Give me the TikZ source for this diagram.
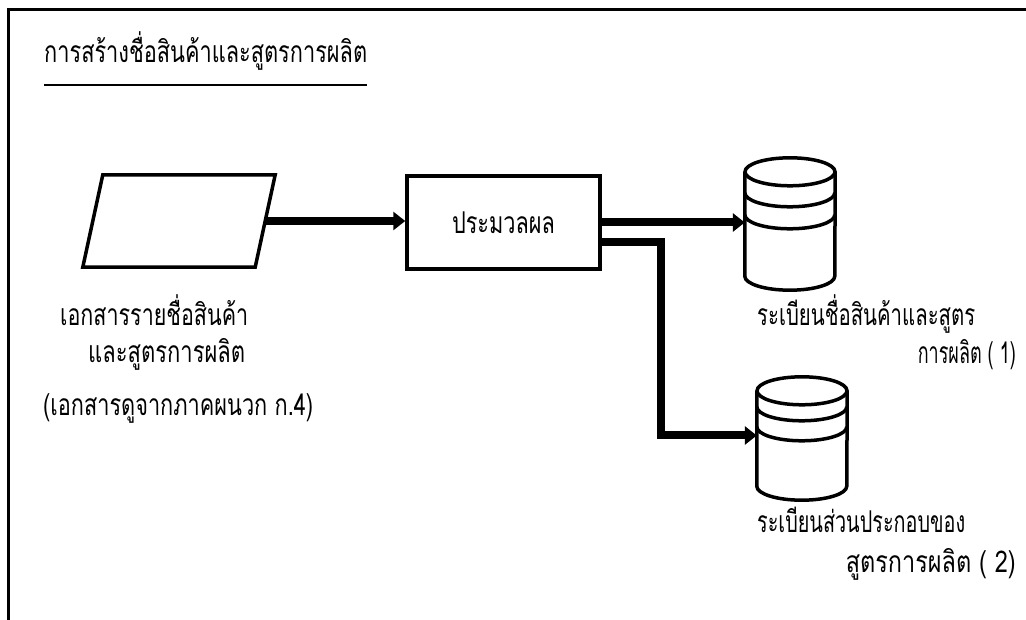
\documentclass[tikz,border=0pt]{standalone}
\usepackage{fontspec}
\usepackage{graphicx}
\newfontfamily\thaifont[Script=Thai]{Loma}
\usetikzlibrary{arrows.meta,calc}
\newcommand\fitw[2]{\resizebox{#1}{\height}{#2}}
\newcommand\dbdraw[3]{%
  \draw[shapeline] ([yshift=-14pt]#1.north west) -- ([yshift=14pt]#1.south west)
    arc[start angle=180,end angle=360,x radius=45pt,y radius=14pt] -- ([yshift=-14pt]#1.north east);
  \draw[shapeline] ([yshift=-14pt]#1.north) ellipse[x radius=45pt,y radius=14pt];
  \draw[shapeline] ([yshift=-#2pt]#1.north west) arc[start angle=180,end angle=360,x radius=45pt,y radius=14pt];
  \draw[shapeline] ([yshift=-#3pt]#1.north west) arc[start angle=180,end angle=360,x radius=45pt,y radius=14pt];
}
\begin{document}
\begin{tikzpicture}[x=1pt,y=1pt,
  shapeline/.style={line width=3.5pt},
  flow/.style={line width=8pt,-{Triangle[length=12pt,width=18pt]},line join=miter},
  lbl/.style={font=\thaifont\fontsize{30}{34}\selectfont,inner sep=0pt},
  dbbox/.style={minimum width=90pt,inner sep=0pt},
]
\useasboundingbox (0,0) rectangle (1026,619);
\fill[white] (0,0) rectangle (1026,619);
\begin{scope}
\clip (0,0) rectangle (1026,619);
\draw[line width=3pt] (8,-10) -- (8,609) -- (1040,609);
\end{scope}

\node[lbl,anchor=base west] (title) at (44,556) {\fitw{323pt}{การสร้างชื่อสินค้าและสูตรการผลิต}};
\draw[line width=2pt] (title.west |- 0,534) -- (title.east |- 0,534);

\node[minimum width=172pt,minimum height=92pt,inner sep=0pt] (doc) at (179,398) {};
\draw[shapeline,line join=miter] ([xshift=10pt]doc.north west) -- ([xshift=10pt]doc.north east)
  -- ([xshift=-10pt]doc.south east) -- ([xshift=-10pt]doc.south west) -- cycle;
\node[draw,shapeline,lbl,minimum width=193pt,minimum height=93pt] (proc) at (503.5,396.5) {\fitw{103pt}{ประมวลผล}};

\node[dbbox,minimum height=132pt] (db1) at (790,395) {};
\node[dbbox,minimum height=123pt] (db2) at (802,180.5) {};
\dbdraw{db1}{35}{57}
\dbdraw{db2}{30}{50}

\draw[flow] (doc.east) -- (doc.east -| proc.west);
\draw[flow] (proc.east) -- (proc.east -| db1.west);
\draw[flow] ([yshift=-20pt]proc.east) -- ++(59,0) |- ([yshift=3pt]db2.west);

\node[lbl,anchor=base west] (l1a) at (60,293) {\fitw{188pt}{เอกสารรายชื่อสินค้า}};
\node[lbl,anchor=base west] (l1b) at (88,256) {\fitw{157pt}{และสูตรการผลิต}};
\node[lbl,anchor=base west] (l1c) at (43,203) {\fitw{270pt}{(เอกสารดูจากภาคผนวก ก.4)}};
\node[lbl,anchor=base west] (l2a) at (757,293) {\fitw{218pt}{ระเบียนชื่อสินค้าและสูตร}};
\node[lbl,anchor=base east] (l2b) at (1016,255) {\fitw{98pt}{การผลิต ( 1)}};
\node[lbl,anchor=base west] (l3a) at (757,86) {\fitw{208pt}{ระเบียนส่วนประกอบของ}};
\node[lbl,anchor=base east] (l3b) at (1016,46) {\fitw{170pt}{สูตรการผลิต ( 2)}};
\end{tikzpicture}
\end{document}
